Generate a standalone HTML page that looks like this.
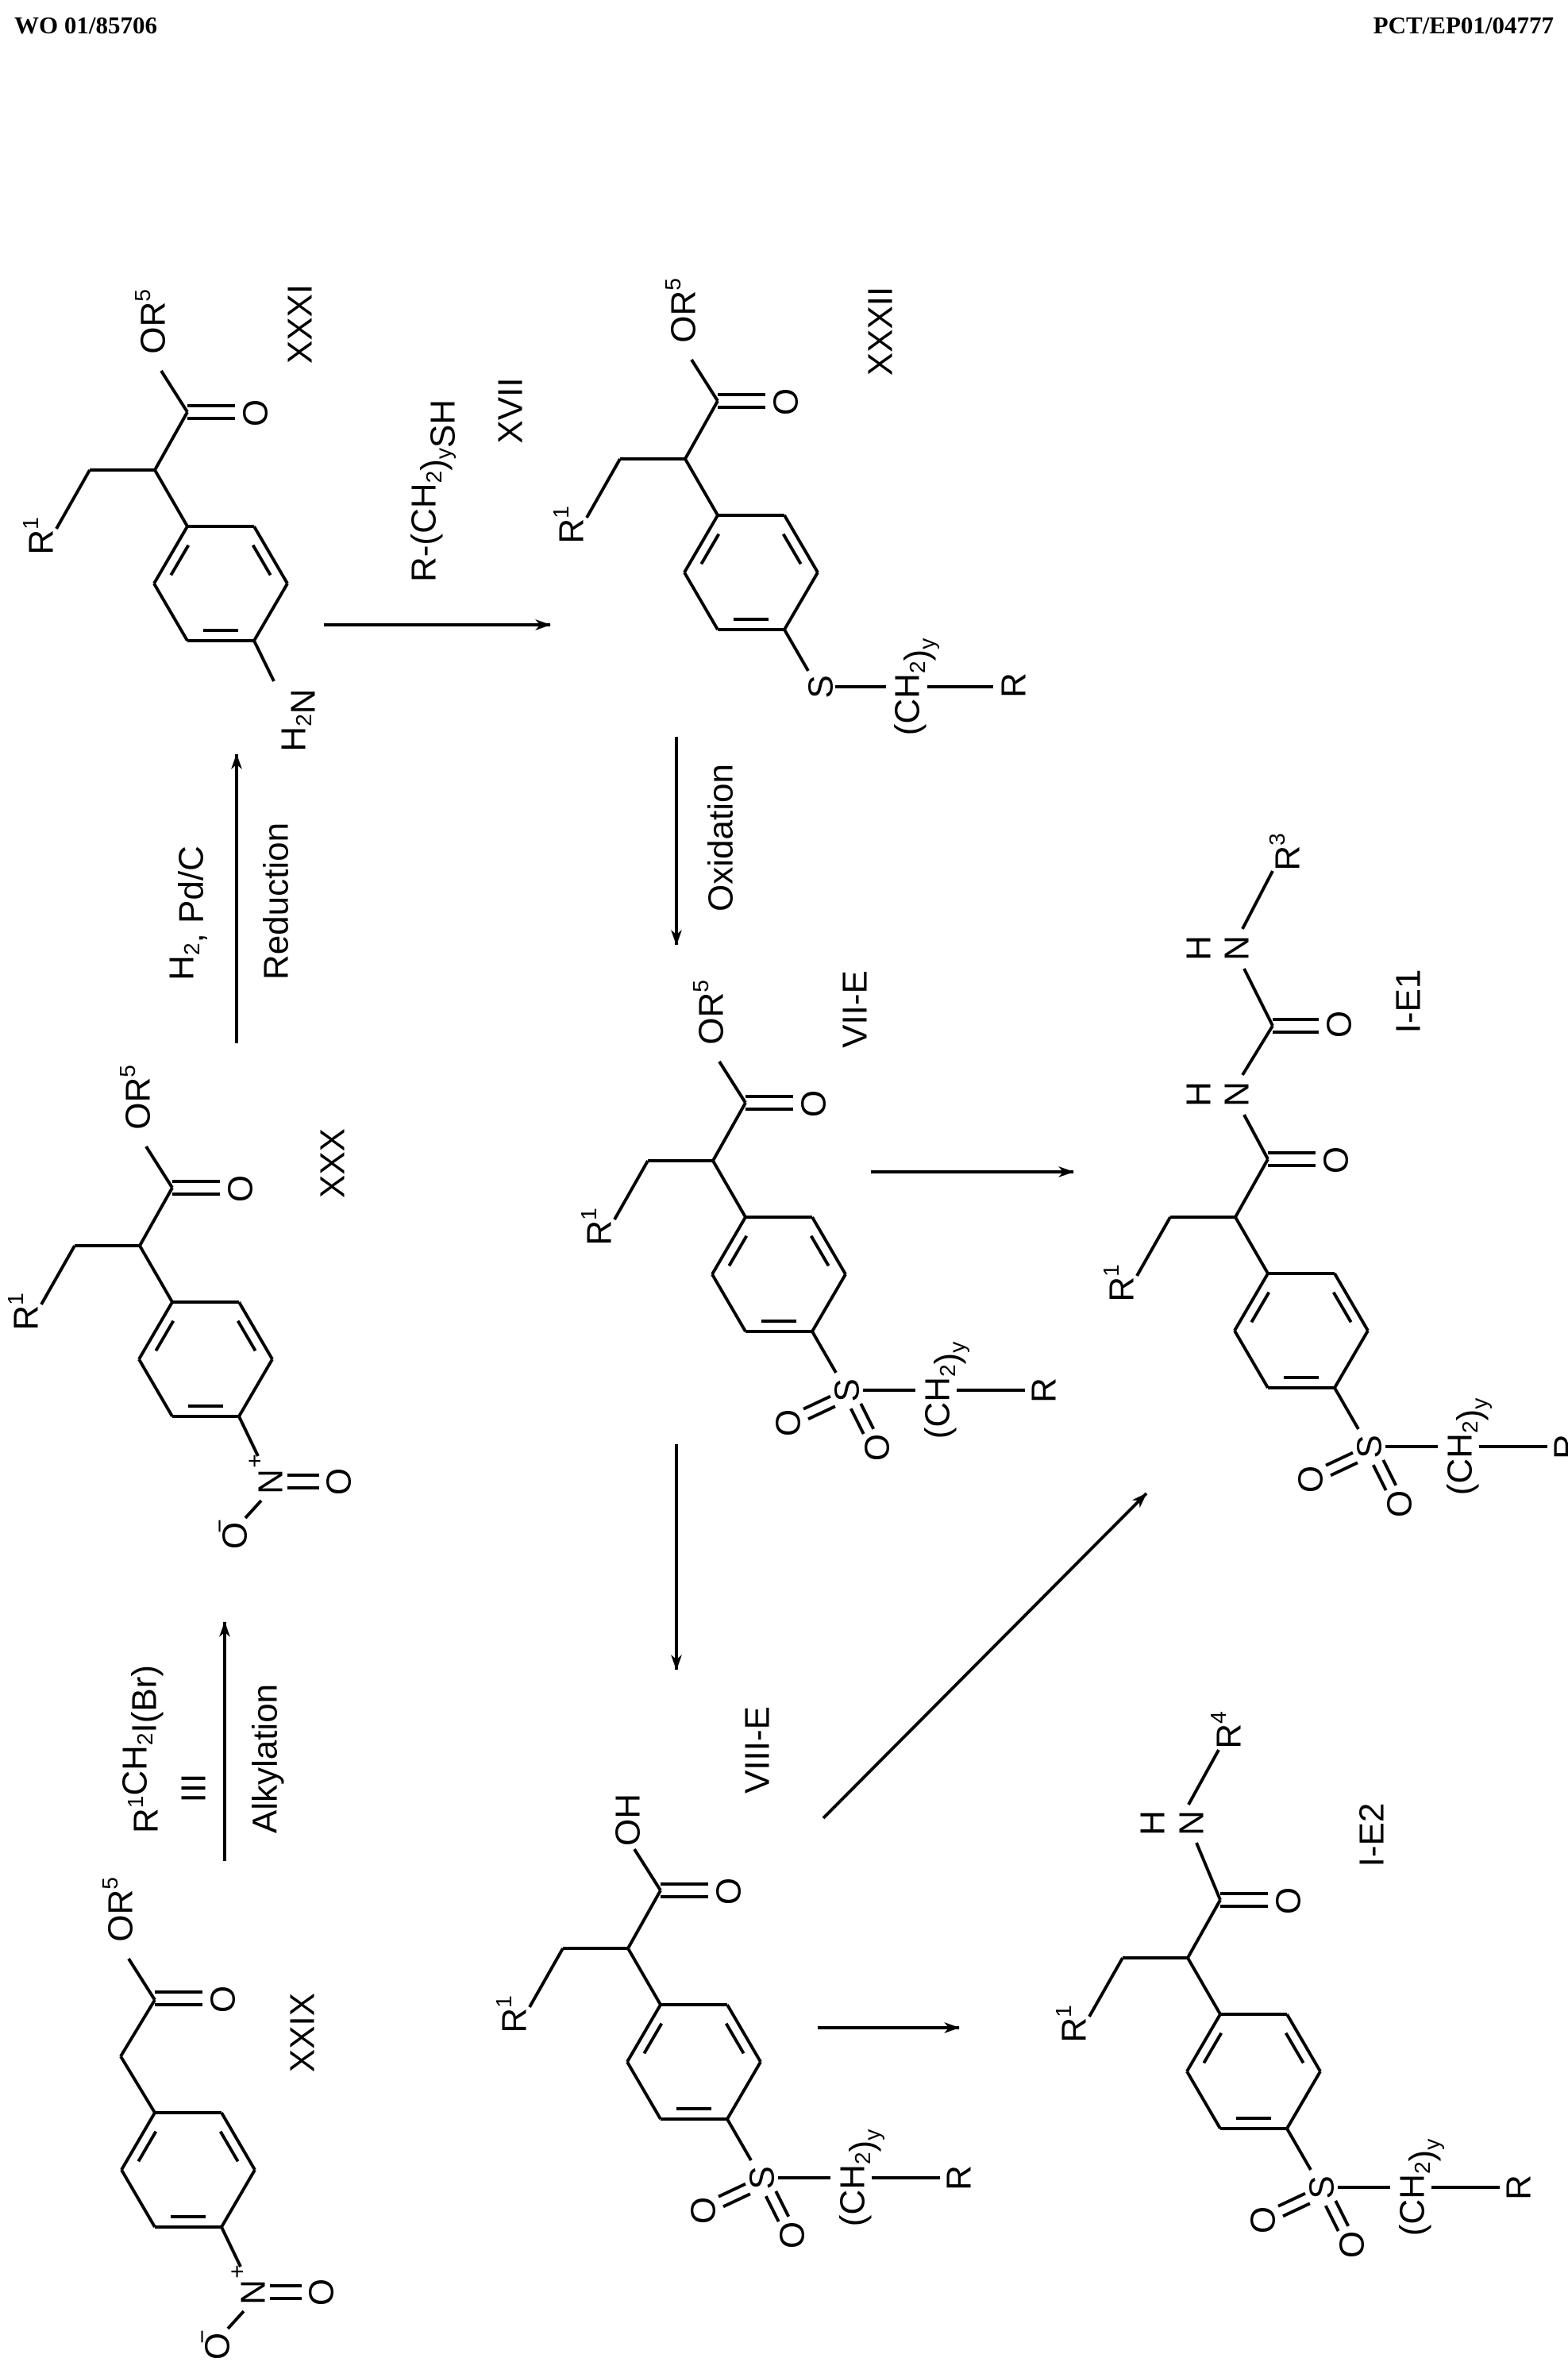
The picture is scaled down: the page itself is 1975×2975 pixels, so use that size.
<!DOCTYPE html>
<html><head><meta charset="utf-8">
<style>
html,body{margin:0;padding:0;background:#fff;}
svg{display:block;}
text{font-family:"Liberation Sans",Arial,sans-serif;fill:#000;}
.hdr{font-family:"Liberation Serif",serif;font-weight:bold;font-size:31px;}
</style></head>
<body>
<svg id="s" width="1975" height="2975" viewBox="0 0 1975 2975" xmlns="http://www.w3.org/2000/svg">
<defs>
<marker id="ah" viewBox="0 0 20 14" refX="19" refY="7" markerWidth="20" markerHeight="14" markerUnits="userSpaceOnUse" orient="auto">
<path d="M0,0 L20,7 L0,14 L6,7 Z" fill="#000"/>
</marker>
</defs>
<text class="hdr" x="18" y="42">WO 01/85706</text>
<text class="hdr" x="1957" y="42" text-anchor="end">PCT/EP01/04777</text>
<g id="g" stroke="#000" stroke-width="4" fill="none" stroke-linecap="butt"></g>
<g id="t"></g>
</svg>
<script>
var g=document.getElementById('g'),t=document.getElementById('t');
var NS="http://www.w3.org/2000/svg";
function L(x1,y1,x2,y2,arrow){var e=document.createElementNS(NS,'line');e.setAttribute('x1',x1);e.setAttribute('y1',y1);e.setAttribute('x2',x2);e.setAttribute('y2',y2);if(arrow)e.setAttribute('marker-end','url(#ah)');g.appendChild(e);}
function T(x,y,html,fs){fs=fs||44;var e=document.createElementNS(NS,'text');e.setAttribute('transform','translate('+x+','+y+') rotate(-90)');e.setAttribute('text-anchor','middle');e.setAttribute('dominant-baseline','central');e.setAttribute('font-size',fs);e.innerHTML=html;t.appendChild(e);}
var sup=function(s){return '<tspan dy="-14" font-size="28">'+s+'</tspan><tspan dy="14"></tspan>';};
var sub=function(s){return '<tspan dy="12" font-size="28">'+s+'</tspan><tspan dy="-12"></tspan>';};
function ring(cx,cy){var V=[[-42,-72],[42,-72],[84,0],[42,72],[-42,72],[-84,0]];
for(var i=0;i<6;i++){var a=V[i],b=V[(i+1)%6];L(cx+a[0],cy+a[1],cx+b[0],cy+b[1]);}
[[5,0],[1,2],[3,4]].forEach(function(p){var a=V[p[0]],b=V[p[1]];var mx=(a[0]+b[0])/2,my=(a[1]+b[1])/2;var k=0.82;
var ax=a[0]+(0-a[0])*0.0,ay=a[1];
var ia=[a[0]*k,a[1]*k],ib=[b[0]*k,b[1]*k];var f=0.18;
var x1=ia[0]+(ib[0]-ia[0])*f,y1=ia[1]+(ib[1]-ia[1])*f,x2=ib[0]+(ia[0]-ib[0])*f,y2=ib[1]+(ia[1]-ib[1])*f;L(cx+x1,cy+y1,cx+x2,cy+y2);});}
function dbl(x1,y1,x2,y2,o){var dx=x2-x1,dy=y2-y1,l=Math.hypot(dx,dy),nx=-dy/l*o,ny=dx/l*o;L(x1+nx,y1+ny,x2+nx,y2+ny);L(x1-nx,y1-ny,x2-nx,y2-ny);}
function chain(cx,cy,hasR1){ring(cx,cy);
if(hasR1){L(cx-42,cy-72,cx-83,cy-143);L(cx-83,cy-143,cx-165,cy-143);L(cx-165,cy-143,cx-207,cy-69);T(cx-226,cy-60,'R'+sup('1'));L(cx-83,cy-143,cx-42,cy-216);}
else{L(cx-42,cy-72,cx-85,cy-143);L(cx-85,cy-143,cx-42,cy-214);}
dbl(cx-42,cy-216,cx+18,cy-216,8);T(cx+44,cy-215,'O');}
function ester(cx,cy){L(cx-42,cy-216,cx-75,cy-268);T(cx-85,cy-330,'OR'+sup('5'));}
function sulfone(cx,cy){L(cx+42,cy+72,cx+72,cy+124);T(cx+86,cy+146,'S');dbl(cx+68,cy+160,cx+34,cy+176,7);T(cx+12,cy+187,'O');dbl(cx+97,cy+166,cx+113,cy+198,7);T(cx+124,cy+218,'O');
L(cx+106,cy+146,cx+172,cy+146);T(cx+200,cy+146,'(CH'+sub('2')+')'+sub('y'));L(cx+224,cy+146,cx+310,cy+146);T(cx+334,cy+146,'R');}
function nitro(cx,cy){L(cx+42,cy+72,cx+66,cy+122);T(cx+82,cy+154,'N');T(cx+62,cy+128,'+',30);L(cx+103,cy+146,cx+143,cy+146);L(cx+103,cy+162,cx+143,cy+162);T(cx+168,cy+154,'O');L(cx+70,cy+178,cx+50,cy+200);T(cx+37,cy+222,'O');T(cx+18,cy+210,'−',30);}
// XXXI
var c=[278,735];chain(c[0],c[1],1);ester(c[0],c[1]);L(c[0]+42,c[1]+72,c[0]+67,c[1]+123);T(c[0]+92,c[1]+172,'H'+sub('2')+'N');T(378,408,'XXXI');
// XXXII
c=[946,721];chain(c[0],c[1],1);ester(c[0],c[1]);L(c[0]+42,c[1]+72,c[0]+72,c[1]+124);T(c[0]+88,c[1]+144,'S');L(c[0]+106,c[1]+144,c[0]+170,c[1]+144);T(c[0]+197,c[1]+144,'(CH'+sub('2')+')'+sub('y'));L(c[0]+222,c[1]+144,c[0]+305,c[1]+144);T(c[0]+331,c[1]+142,'R');T(1109,417,'XXXII');
// XXX
c=[259,1712];chain(c[0],c[1],1);ester(c[0],c[1]);nitro(c[0],c[1]);T(419,1465,'XXX');
// VII-E
c=[981,1605];chain(c[0],c[1],1);ester(c[0],c[1]);sulfone(c[0],c[1]);T(1077,1271,'VII-E');
// I-E1
c=[1639,1676];chain(c[0],c[1],1);sulfone(c[0],c[1]);
L(c[0]-42,c[1]-216,c[0]-72,c[1]-272);T(c[0]-81,c[1]-298,'N');T(c[0]-129,c[1]-298,'H');
L(c[0]-74,c[1]-322,c[0]-36,c[1]-384);dbl(c[0]-36,c[1]-384,c[0]+22,c[1]-384,8);T(c[0]+48,c[1]-386,'O');
L(c[0]-36,c[1]-384,c[0]-72,c[1]-456);T(c[0]-81,c[1]-482,'N');T(c[0]-129,c[1]-482,'H');
L(c[0]-74,c[1]-506,c[0]-36,c[1]-579);T(c[0]-17,c[1]-603,'R'+sup('3'));T(1774,1261,'I-E1');
// XXIX
c=[237,2733];chain(c[0],c[1],0);L(c[0]-42,c[1]-214,c[0]-75,c[1]-266);T(c[0]-85,c[1]-328,'OR'+sup('5'));nitro(c[0],c[1]);T(381,2560,'XXIX');
// VIII-E
c=[874,2597];chain(c[0],c[1],1);sulfone(c[0],c[1]);L(c[0]-42,c[1]-216,c[0]-75,c[1]-268);T(c[0]-83,c[1]-305,'OH');T(954,2204,'VIII-E');
// I-E2
c=[1579,2609];chain(c[0],c[1],1);sulfone(c[0],c[1]);L(c[0]-42,c[1]-216,c[0]-72,c[1]-288);T(c[0]-78,c[1]-313,'N');T(c[0]-127,c[1]-313,'H');
L(c[0]-82,c[1]-336,c[0]-44,c[1]-405);T(c[0]-31,c[1]-430,'R'+sup('4'));T(1728,2311,'I-E2');
// arrows
L(408,787,693,787,1);L(852,928,852,1190,1);L(298,1314,298,950,1);L(283,2344,283,2043,1);
L(1097,1476,1352,1476,1);L(852,1819,852,2103,1);L(1037,2290,1444,1881,1);L(1030,2554,1208,2554,1);
// reagent labels
T(534,618,'R-(CH'+sub('2')+')'+sub('y')+'SH');T(643,517,'XVII');T(908,1055,'Oxidation');
T(229,1150,'H'+sub('2')+', Pd/C');T(348,1135,'Reduction');
T(184,2203,'R'+sup('1')+'CH'+sub('2')+'I(Br)');T(244,2252,'III');T(334,2215,'Alkylation');
</script>
</body></html>
